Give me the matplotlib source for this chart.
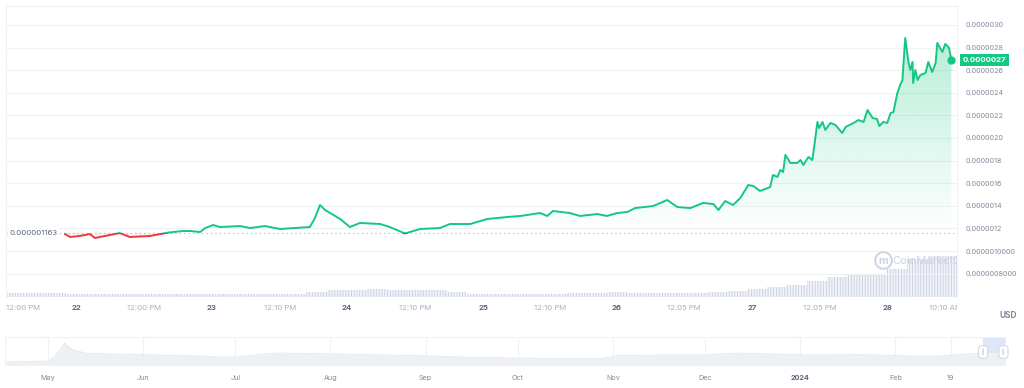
import numpy as np
import matplotlib.pyplot as plt
from matplotlib.patches import Rectangle, PathPatch
from matplotlib.path import Path
from matplotlib.colors import to_rgb
from matplotlib.transforms import Bbox, TransformedBbox

plt.rcParams['font.family'] = ['Inter', 'DejaVu Sans']

# price, hours since Feb 21 00:00, values in 1e-6 USD
hours = [21.9, 22.8, 24.5, 26.3, 27.2, 29.9, 31.6, 33.4, 37.0, 38.8, 40.5, 42.9,
         44.1, 45.9, 46.8, 48.2, 49.4, 53.0, 54.8, 57.4, 60.1, 65.4, 66.3, 67.2,
         68.1, 69.0, 70.8, 72.5, 74.3, 77.9, 79.6, 82.3, 85.0, 88.5, 90.3, 93.9,
         96.9, 100.5, 102.8, 106.3, 107.6, 108.6, 111.6, 113.4, 116.5, 118.2, 120.0,
         121.8, 123.2, 126.4, 128.9, 130.7, 133.0, 135.3, 137.1, 138.0, 139.2, 140.6,
         141.9, 143.3, 144.2, 145.4, 147.2, 147.7, 148.5, 149.0, 149.5, 149.9, 150.8,
         152.0, 152.6, 153.1, 154.0, 154.7, 155.6, 155.9, 156.5, 157.0, 157.9, 158.8,
         160.0, 160.6, 162.0, 162.9, 163.8, 164.5, 165.4, 166.2, 166.6, 167.3, 168.0,
         168.6, 169.1, 169.8, 170.3, 170.7, 171.2, 171.8, 172.1, 172.5, 172.6, 173.0,
         173.4, 173.9, 174.8, 175.3, 176.0, 176.6, 176.9, 177.4, 177.8, 178.3, 178.7,
         179.0, 179.4]
price = [1.150, 1.124, 1.133, 1.150, 1.115, 1.142, 1.159, 1.124, 1.133, 1.150, 1.165, 1.177,
         1.177, 1.168, 1.203, 1.230, 1.212, 1.221, 1.203, 1.221, 1.195, 1.212, 1.292, 1.407,
         1.363, 1.336, 1.283, 1.212, 1.248, 1.239, 1.212, 1.155, 1.195, 1.203, 1.239, 1.239,
         1.283, 1.301, 1.310, 1.336, 1.310, 1.354, 1.336, 1.310, 1.327, 1.310, 1.336,
         1.345, 1.380, 1.398, 1.451, 1.389, 1.380, 1.425, 1.416, 1.363, 1.442, 1.407,
         1.469, 1.584, 1.575, 1.531, 1.566, 1.673, 1.655, 1.717, 1.699, 1.850, 1.779,
         1.779, 1.805, 1.761, 1.832, 1.805, 2.142, 2.088, 2.142, 2.071, 2.133, 2.115,
         2.044, 2.097, 2.133, 2.159, 2.142, 2.248, 2.177, 2.168, 2.106, 2.142, 2.133,
         2.221, 2.230, 2.398, 2.469, 2.513, 2.885, 2.664, 2.602, 2.673, 2.487, 2.602,
         2.513, 2.558, 2.575, 2.673, 2.584, 2.664, 2.841, 2.796, 2.761, 2.832, 2.814,
         2.796, 2.690]
base_price = 1.163

# volume in 4h buckets (millions USD)
volume = [1.6, 1.6, 1.6, 1.2, 1.2, 1.3, 1.2, 1.2, 1.3, 1.2, 1.2, 1.2, 1.3, 1.2, 1.2,
          2.1, 2.9, 2.9, 3.1, 2.9, 2.9, 2.9, 2.1, 1.4, 1.2, 1.2, 1.2, 1.4,
          1.6, 1.6, 1.9, 1.6, 1.6, 1.6, 1.6, 1.9, 2.5, 3.3, 4.1, 4.9, 6.6, 8.2,
          9.1, 9.5, 11.5, 15.7, 16.9, 16.9]
bucket = 3.56

xtick_hours = [14.4, 24.0, 36.0, 48.0, 60.1, 72.0, 84.1, 96.2, 108.1, 120.0, 131.9,
               144.0, 156.1, 168.0, 178.3]
xtick_labels = ['12:00 PM', '22', '12:00 PM', '23', '12:10 PM', '24', '12:10 PM', '25',
                '12:10 PM', '26', '12:05 PM', '27', '12:05 PM', '28', '10:10 AM']
ytick_vals = [0.8, 1.0, 1.2, 1.4, 1.6, 1.8, 2.0, 2.2, 2.4, 2.6, 2.8, 3.0]
ytick_labels = ['0.0000008000', '0.0000010000', '0.0000012', '0.0000014', '0.0000016',
                '0.0000018', '0.0000020', '0.0000022', '0.0000024', '0.0000026',
                '0.0000028', '0.0000030']

# overview navigator: days since May 1 2023, relative price level
nav_days = [-14, -7, 0, 2, 4, 5.5, 7, 9, 11, 13, 15, 20, 30, 40, 50, 55, 62, 70, 75, 85,
            95, 110, 125, 135, 150, 165, 180, 186, 200, 214, 224, 235, 250, 265, 280,
            290, 300, 308, 311.7]
nav_level = [3, 3.5, 4, 8, 15, 22, 17, 14, 13, 11, 12, 11, 10.5, 9.5, 9, 8, 8, 11, 12,
             11.5, 11, 10, 9, 8, 7, 6.5, 6.5, 9.5, 10, 10, 12, 11, 10, 10.5, 9, 9, 11,
             13, 13]
nav_tick_days = [0, 31, 61, 92, 123, 153, 184, 214, 245, 276, 294]
nav_tick_labels = ['May', 'Jun', 'Jul', 'Aug', 'Sep', 'Oct', 'Nov', 'Dec', '2024', 'Feb', '19']

green = '#16c784'
red = '#ea3943'
grid_c = '#eff2f5'

hours = np.array(hours)
price = np.array(price)
x0, x1 = 11.4, 180.4

fig = plt.figure(figsize=(10.24, 3.88), dpi=100)
pos = [6 / 1024, 91 / 388, 951 / 1024, 291 / 388]

ax_vol = fig.add_axes(pos)
vol_t = x0 + np.arange(len(volume)) * bucket
plt.rcParams['hatch.linewidth'] = 0.6
ax_vol.bar(vol_t, volume, width=bucket, align='edge', color='#f1f3f8',
           edgecolor='#c6cde0', hatch='||||||', linewidth=0)
ax_vol.set_ylim(0, 120)
ax_vol.set_xlim(x0, x1)
ax_vol.axis('off')

ax = fig.add_axes(pos, sharex=ax_vol)
ax.patch.set_visible(False)

# gradient area above the base line
grad = np.zeros((256, 1, 4))
grad[..., :3] = to_rgb(green)
grad[:, 0, 3] = np.linspace(0.0, 0.33, 256)
img = ax.imshow(grad, extent=[x0, x1, base_price, 3.0], origin='lower', aspect='auto',
                zorder=1, interpolation='bilinear')
poly = ax.fill_between(hours, price, base_price, where=price >= base_price,
                       interpolate=True, facecolor='none', edgecolor='none')
clip = PathPatch(Path.make_compound_path(*poly.get_paths()), transform=ax.transData)
img.set_clip_path(clip)
ax.fill_between(hours, price, base_price, where=price < base_price, interpolate=True,
                color=red, alpha=0.06, lw=0)

up = Rectangle((0, base_price), 400, 10, transform=ax.transData)
dn = Rectangle((0, base_price - 10), 400, 10, transform=ax.transData)
lg, = ax.plot(hours, price, color=green, lw=1.4, zorder=3, solid_joinstyle='round')
lg.set_clip_path(up)
lr, = ax.plot(hours, price, color=red, lw=1.4, zorder=3, solid_joinstyle='round')
lr.set_clip_path(dn)
ax.plot(hours[-1], price[-1], 'o', color=green, ms=5, zorder=4)

ax.axhline(base_price, color='#a6b0c3', lw=0.8, ls=(0, (1, 3)), zorder=2)
ax.text(0.004, base_price, '0.000001163', transform=ax.get_yaxis_transform(),
        ha='left', va='center', fontsize=5.6, color='#58667e', zorder=5,
        bbox=dict(boxstyle='square,pad=0.15', fc='white', ec='none'))

# watermark
ax.plot(167.2, 0.92, 'o', ms=12, mfc='none', mec='#cdd3e1', mew=1.4, zorder=2, clip_on=True)
ax.text(167.2, 0.915, 'm', ha='center', va='center', fontsize=7.5, color='#cdd3e1',
        fontweight='bold', zorder=2)
ax.text(169.0, 0.915, 'CoinMarketCap', ha='left', va='center', fontsize=8,
        color='#cdd3e1', zorder=2, clip_on=True)

ax.set_xlim(x0, x1)
ax.set_ylim(0.593, 3.168)
ax.yaxis.tick_right()
ax.set_yticks(ytick_vals, ytick_labels)
ax.tick_params(axis='y', length=0, pad=6, labelsize=5.2, labelcolor='#808a9d')
ax.grid(axis='y', color=grid_c, lw=0.8)
ax.set_axisbelow(True)
ax.set_xticks(xtick_hours, xtick_labels)
ax.tick_params(axis='x', length=0, pad=6, labelsize=5.6)
right_clip = TransformedBbox(Bbox([[0, 0], [957 / 1024, 1]]), fig.transFigure)
for lbl in ax.get_xticklabels():
    if lbl.get_text().isdigit():
        lbl.set_color('#58667e')
        lbl.set_fontweight('bold')
    else:
        lbl.set_color('#a6b0c3')
    lbl.set_clip_box(right_clip)
    lbl.set_clip_on(True)
for s in ['top', 'left', 'right']:
    ax.spines[s].set_color(grid_c)
    ax.spines[s].set_linewidth(0.8)
ax.spines['bottom'].set_visible(False)

ax.text(1.006, price[-1], '0.0000027', transform=ax.get_yaxis_transform(), ha='left',
        va='center', fontsize=5.6, color='white', fontweight='bold', zorder=10,
        bbox=dict(boxstyle='square,pad=0.35', fc=green, ec='none'), clip_on=False)

fig.text(1008 / 1024, 1 - 315 / 388, 'USD', ha='center', va='center', fontsize=6,
         fontweight='bold', color='#808a9d')

# navigator
ax_nav = fig.add_axes([5 / 1024, 23 / 388, 1000 / 1024, 28 / 388])
ax_nav.fill_between(nav_days, nav_level, 0, color='#edf0f5', lw=0)
ax_nav.plot(nav_days, nav_level, color='#e2e6ee', lw=0.6)
ax_nav.set_xlim(-14, 311.7)
ax_nav.set_ylim(0, 28)
ax_nav.axvspan(304.6, 311.7, color='#dfe6f8', zorder=0.5)
for d in [304.6, 311.2]:
    ax_nav.text(d, 13, '||', ha='center', va='center', fontsize=3.5, color='#a6b0c3',
                zorder=5, clip_on=False,
                bbox=dict(boxstyle='round,pad=0.6', fc='white', ec='#c6cde0', lw=0.6))
ax_nav.set_xticks(nav_tick_days, nav_tick_labels)
ax_nav.set_yticks([])
ax_nav.grid(axis='x', color=grid_c, lw=0.8)
ax_nav.set_axisbelow(True)
ax_nav.tick_params(axis='x', length=0, pad=7, labelsize=5.2, labelcolor='#808a9d')
for lbl in ax_nav.get_xticklabels():
    if lbl.get_text() == '2024':
        lbl.set_fontweight('bold')
        lbl.set_color('#58667e')
for s in ax_nav.spines.values():
    s.set_color(grid_c)
    s.set_linewidth(0.8)

fig.savefig('out.png', dpi=100, facecolor='white')
